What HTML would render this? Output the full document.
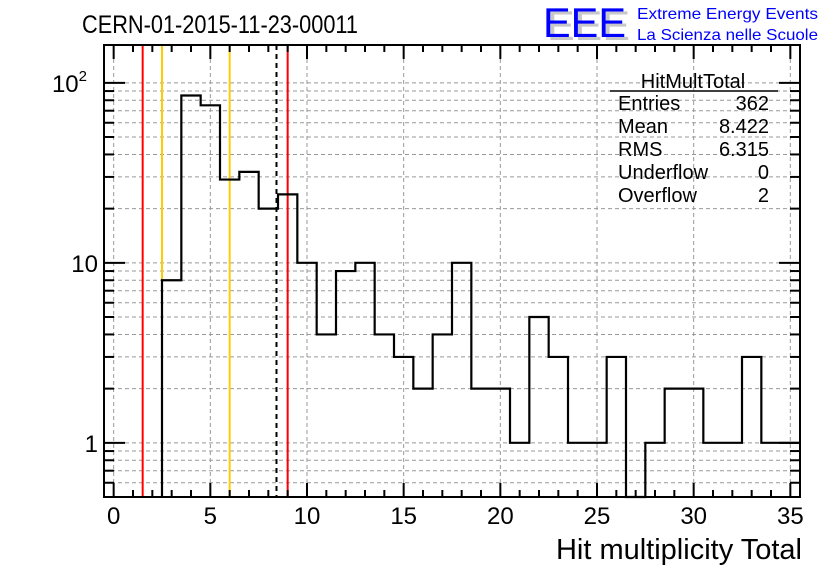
<!DOCTYPE html>
<html><head><meta charset="utf-8"><style>
html,body{margin:0;padding:0;background:#fff;}
svg{display:block;font-family:"Liberation Sans",Arial,sans-serif;}
</style></head><body>
<svg id="chart" width="836" height="572" viewBox="0 0 836 572" xmlns="http://www.w3.org/2000/svg">
<rect width="836" height="572" fill="#fff"/>
<g id="grid"></g>
<g id="vlines"></g>
<path id="hist" fill="none" stroke="#000" stroke-width="2.2"/>
<g id="axes"></g>
<text x="82" y="33" font-size="25" textLength="276" lengthAdjust="spacingAndGlyphs">CERN-01-2015-11-23-00011</text>
<g>
<text x="547" y="40" font-size="42" fill="#c8c8c8" textLength="83" lengthAdjust="spacingAndGlyphs">EEE</text>
<text x="543" y="37" font-size="42" fill="#0000ff" textLength="83" lengthAdjust="spacingAndGlyphs">EEE</text>
<text x="637" y="19" font-size="16" fill="#0000ff" textLength="181" lengthAdjust="spacingAndGlyphs">Extreme Energy Events</text>
<text x="637" y="40" font-size="16" fill="#0000ff" textLength="181" lengthAdjust="spacingAndGlyphs">La Scienza nelle Scuole</text>
</g>
<g font-size="20">
<text x="693" y="88" text-anchor="middle">HitMultTotal</text>
<line x1="610" y1="91" x2="778" y2="91" stroke="#000" stroke-width="1.5"/>
<text x="618" y="110">Entries</text><text x="769" y="110" text-anchor="end">362</text>
<text x="618" y="133">Mean</text><text x="769" y="133" text-anchor="end">8.422</text>
<text x="618" y="156">RMS</text><text x="769" y="156" text-anchor="end">6.315</text>
<text x="618" y="179">Underflow</text><text x="769" y="179" text-anchor="end">0</text>
<text x="618" y="202">Overflow</text><text x="769" y="202" text-anchor="end">2</text>
</g>
<text x="802" y="559" font-size="29" text-anchor="end">Hit multiplicity Total</text>
</svg>
<script>
const binCenters = [0,1,2,3,4,5,6,7,8,9,10,11,12,13,14,15,16,17,18,19,20,21,22,23,24,25,26,27,28,29,30,31,32,33,34,35];
const binValues  = [0,0,0,8,85,75,29,32,20,24,10,4,9,10,4,3,2,4,10,2,2,1,5,3,1,1,3,0,1,2,2,1,1,3,1,1];
const xTickLabels = [0,5,10,15,20,25,30,35];
const yMajorTicks = [1,10,100];
const refLines = [{v:1.5,c:"#ff0000",d:""},{v:2.5,c:"#ffcc00",d:""},{v:6,c:"#ffcc00",d:""},{v:8.422,c:"#000",d:"5,4"},{v:9,c:"#ff0000",d:""}];

const L=104,R=800,T=45,B=497, XMIN=-0.5, XMAX=35.5, YMIN=0.5;
const lyMin=Math.log10(YMIN), PXDEC=180;
const X=v=>L+(v-XMIN)/(XMAX-XMIN)*(R-L);
const Y=v=>{ if(v<=0) return B; const y=B-(Math.log10(v)-lyMin)*PXDEC; return Math.max(T,Math.min(B,y)); };
const YMAX=Math.pow(10,lyMin+(B-T)/PXDEC);
const NS="http://www.w3.org/2000/svg";
function mk(parent,tag,attrs){const e=document.createElementNS(NS,tag);for(const k in attrs)e.setAttribute(k,attrs[k]);parent.appendChild(e);return e;}

const grid=document.getElementById('grid');
for(let v=0;v<=35;v+=5){
  const g=mk(grid,'line',{x1:X(v),x2:X(v),y1:T,y2:B,stroke:'#999','stroke-dasharray':'4,3','stroke-width':1});
  
  
}
const yMinor=[];
[0.1,1,10,100].forEach(d=>{for(let m=1;m<10;m++){const v=+(m*d).toFixed(3);if(v>=YMIN&&v<=YMAX)yMinor.push(v);}});
yMinor.forEach(v=>{
  const g=mk(grid,'line',{x1:L,x2:R,y1:Y(v),y2:Y(v),stroke:'#999','stroke-dasharray':'4,3','stroke-width':1});
  
  
});

const vl=document.getElementById('vlines');
refLines.forEach(r=>{
  const e=mk(vl,'line',{x1:X(r.v),x2:X(r.v),y1:T,y2:B,stroke:r.c,'stroke-width':2,'stroke-dasharray':r.d});
  
  
});

let d='';let started=false;
binCenters.forEach((c,i)=>{
  const v=binValues[i];const x0=X(c-0.5),x1=X(Math.min(c+0.5,XMAX));
  if(!started){ if(v<=0) return; d+=`M${x0},${B}`; started=true; }
  d+=`L${x0},${Y(v)}L${x1},${Y(v)}`;
});
document.getElementById('hist').setAttribute('d',d);

const ax=document.getElementById('axes');
mk(ax,'rect',{x:L,y:T,width:R-L,height:B-T,fill:'none',stroke:'#000','stroke-width':2});
for(let v=0;v<=35;v++){
  const len=v%5===0?14:7;
  mk(ax,'line',{x1:X(v),x2:X(v),y1:B,y2:B-len,stroke:'#000','stroke-width':2});
  mk(ax,'line',{x1:X(v),x2:X(v),y1:T,y2:T+len,stroke:'#000','stroke-width':2});
}
xTickLabels.forEach(v=>{
  const t=mk(ax,'text',{x:X(v),y:524,'font-size':24,'text-anchor':'middle'});
  t.textContent=v;
  
  
});
yMinor.forEach(v=>{
  const major=yMajorTicks.includes(v);const len=major?21:10;
  mk(ax,'line',{x1:L,x2:L+len,y1:Y(v),y2:Y(v),stroke:'#000','stroke-width':2});
  mk(ax,'line',{x1:R,x2:R-len,y1:Y(v),y2:Y(v),stroke:'#000','stroke-width':2});
});
yMajorTicks.forEach(v=>{
  const t=mk(ax,'text',{x:98,y:Y(v)+9,'font-size':24,'text-anchor':'end'});
  
  
  if(v===100){t.textContent='10';const s=mk(t,'tspan',{dy:-11,'font-size':15});s.textContent='2';t.setAttribute('x',87);}
  else t.textContent=v;
});
</script>
</body></html>
